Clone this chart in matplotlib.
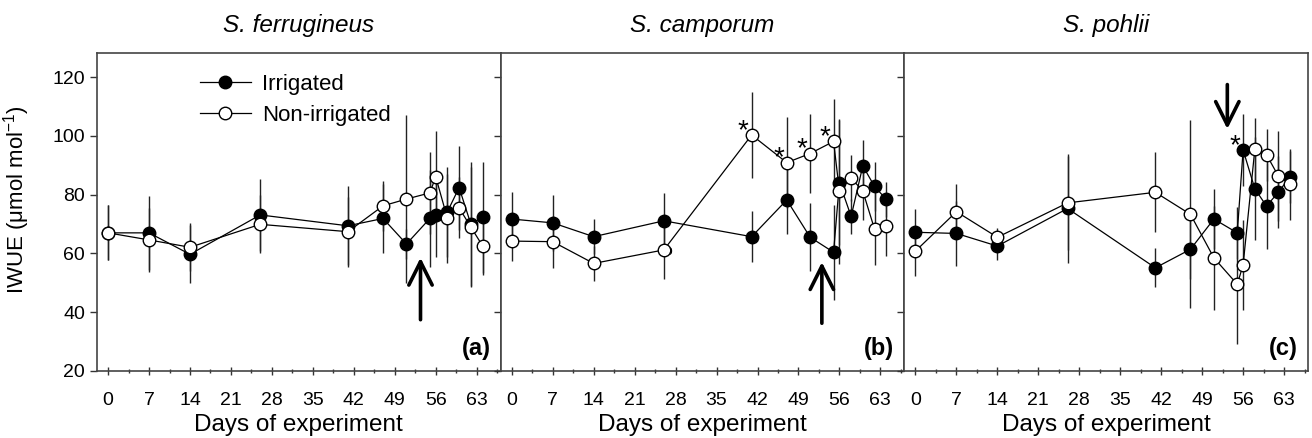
import numpy as np
import matplotlib
matplotlib.use('Agg')
import matplotlib.pyplot as plt
from matplotlib.ticker import MultipleLocator

plt.rcParams['font.family'] = ['Liberation Sans', 'DejaVu Sans']
plt.rcParams['mathtext.fontset'] = 'custom'
plt.rcParams['mathtext.rm'] = 'Liberation Sans'

# sampling days (same for the three species)
days = [0, 7, 14, 26, 41, 47, 51, 55, 56, 58, 60, 62, 64]

species = ['S. ferrugineus', 'S. camporum', 'S. pohlii']
panel_tags = ['(a)', '(b)', '(c)']

# IWUE, irrigated (filled) and non-irrigated (open), with error bars
irr_a = [67.0, 67.0, 59.7, 73.1, 69.4, 71.9, 63.2, 71.9, 73.1, 74.2, 82.4, 70.0, 72.3]
irr_a_err = [9.4, 12.6, 9.9, 12.2, 13.5, 11.6, 5.0, 16.4, 14.2, 15.3, 14.3, 21.0, 18.9]
non_a = [67.0, 64.6, 62.1, 69.9, 67.4, 76.2, 78.5, 80.6, 86.1, 71.9, 75.5, 69.0, 62.6]
non_a_err = [9.4, 11.0, 8.2, 9.9, 11.9, 8.5, 28.6, 13.9, 15.5, 15.0, 10.4, 20.3, 10.0]

irr_b = [71.7, 70.4, 65.7, 71.1, 65.7, 78.2, 65.5, 60.4, 84.1, 72.6, 89.8, 82.8, 78.4]
irr_b_err = [9.3, 9.6, 6.0, 9.3, 8.7, 11.6, 11.6, 16.2, 21.2, 6.0, 8.7, 8.4, 6.0]
non_b = [64.2, 64.0, 56.6, 61.2, 100.3, 90.9, 94.0, 98.1, 81.2, 85.7, 81.2, 68.3, 69.2]
non_b_err = [6.7, 8.8, 6.0, 10.0, 14.5, 15.4, 13.5, 14.6, 24.7, 7.7, 9.9, 12.3, 10.1]

irr_c = [67.2, 66.8, 62.5, 75.3, 55.1, 61.4, 71.7, 67.0, 95.2, 82.0, 76.1, 80.8, 86.0]
irr_c_err = [7.9, 11.0, 4.8, 18.7, 6.6, 10.0, 10.1, 8.8, 12.2, 17.6, 14.7, 12.2, 8.8]
non_c = [60.8, 74.2, 65.5, 77.2, 80.8, 73.3, 58.5, 49.5, 56.1, 95.4, 93.6, 86.4, 83.5]
non_c_err = [8.4, 9.4, 3.0, 16.0, 13.6, 32.0, 17.6, 20.3, 15.3, 10.8, 8.8, 15.3, 12.2]

# significant differences (index into days) marked with *
stars_b = [4, 5, 6, 7]
stars_c = [8]

# arrows: (day, tail, head)
arrows = [(53.4, 36.5, 59.5), (53.0, 35.3, 58.0), (53.3, 118.4, 101.4)]

panels = [
    (irr_a, irr_a_err, non_a, non_a_err, [], irr_a),
    (irr_b, irr_b_err, non_b, non_b_err, stars_b, non_b),
    (irr_c, irr_c_err, non_c, non_c_err, stars_c, irr_c),
]

fig, axes = plt.subplots(1, 3, figsize=(13.12, 4.38), dpi=100, sharey=True)
fig.subplots_adjust(left=0.0739, right=0.997, bottom=0.153, top=0.879, wspace=0)

for i, ax in enumerate(axes):
    irr, irr_err, non, non_err, stars, star_ref = panels[i]
    ax.errorbar(days, irr, yerr=irr_err, fmt='none', ecolor='#222222', elinewidth=1.0, zorder=1)
    ax.errorbar(days, non, yerr=non_err, fmt='none', ecolor='#222222', elinewidth=1.0, zorder=1)
    ax.plot(days, irr, '-o', color='black', lw=0.9, markersize=9, markerfacecolor='black',
            markeredgecolor='black', markeredgewidth=1.0, label='Irrigated', zorder=3)
    ax.plot(days, non, '-o', color='black', lw=0.9, markersize=9, markerfacecolor='white',
            markeredgecolor='black', markeredgewidth=1.0, label='Non-irrigated', zorder=4)

    for k in stars:
        ax.annotate('*', (days[k], star_ref[k]), xytext=(-6, 3), textcoords='offset points',
                    ha='center', va='center', fontsize=20)

    d, tail, head = arrows[i]
    ax.annotate('', xy=(d, head), xytext=(d, tail),
                arrowprops=dict(arrowstyle='->', lw=2.6, color='black', mutation_scale=42))

    ax.set_xlim(-1.9, 67.1)
    ax.set_ylim(20, 128.2)
    ax.xaxis.set_major_locator(MultipleLocator(7))
    ax.xaxis.set_minor_locator(MultipleLocator(3.5))
    ax.set_yticks([20, 40, 60, 80, 100, 120])
    ax.tick_params(axis='x', which='major', direction='inout', length=6, width=1, labelsize=14, pad=12,
                   color='#333333')
    ax.tick_params(axis='x', which='minor', direction='inout', length=3.5, width=1, color='#333333')
    ax.tick_params(axis='y', direction='out', length=5, width=1, labelsize=14, color='#333333')
    for s in ax.spines.values():
        s.set_color('#444444')
        s.set_linewidth(1.2)

    ax.set_title(species[i], fontsize=17.5, style='italic', pad=15)
    ax.set_xlabel('Days of experiment', fontsize=17.5, labelpad=4)
    ax.text(0.975, 0.072, panel_tags[i], transform=ax.transAxes, ha='right', va='center',
            fontsize=17, fontweight='bold')

# little stray glyph next to the day-26 open circle in panel (b)
axes[1].annotate('o', (days[3], non_b[3]), xytext=(3, -1), textcoords='offset points',
                 ha='center', va='center', fontsize=10)

axes[0].set_ylabel(r'IWUE ($\mathrm{\mu}$mol mol$^{-1}$)', fontsize=16)
axes[0].yaxis.set_label_coords(-0.16, 0.54)
axes[0].legend(loc='upper left', bbox_to_anchor=(0.255, 0.935), frameon=False, fontsize=16,
               handlelength=2.3, handletextpad=0.5, borderpad=0, borderaxespad=0, labelspacing=0.45)

fig.savefig('out.png', dpi=100)
